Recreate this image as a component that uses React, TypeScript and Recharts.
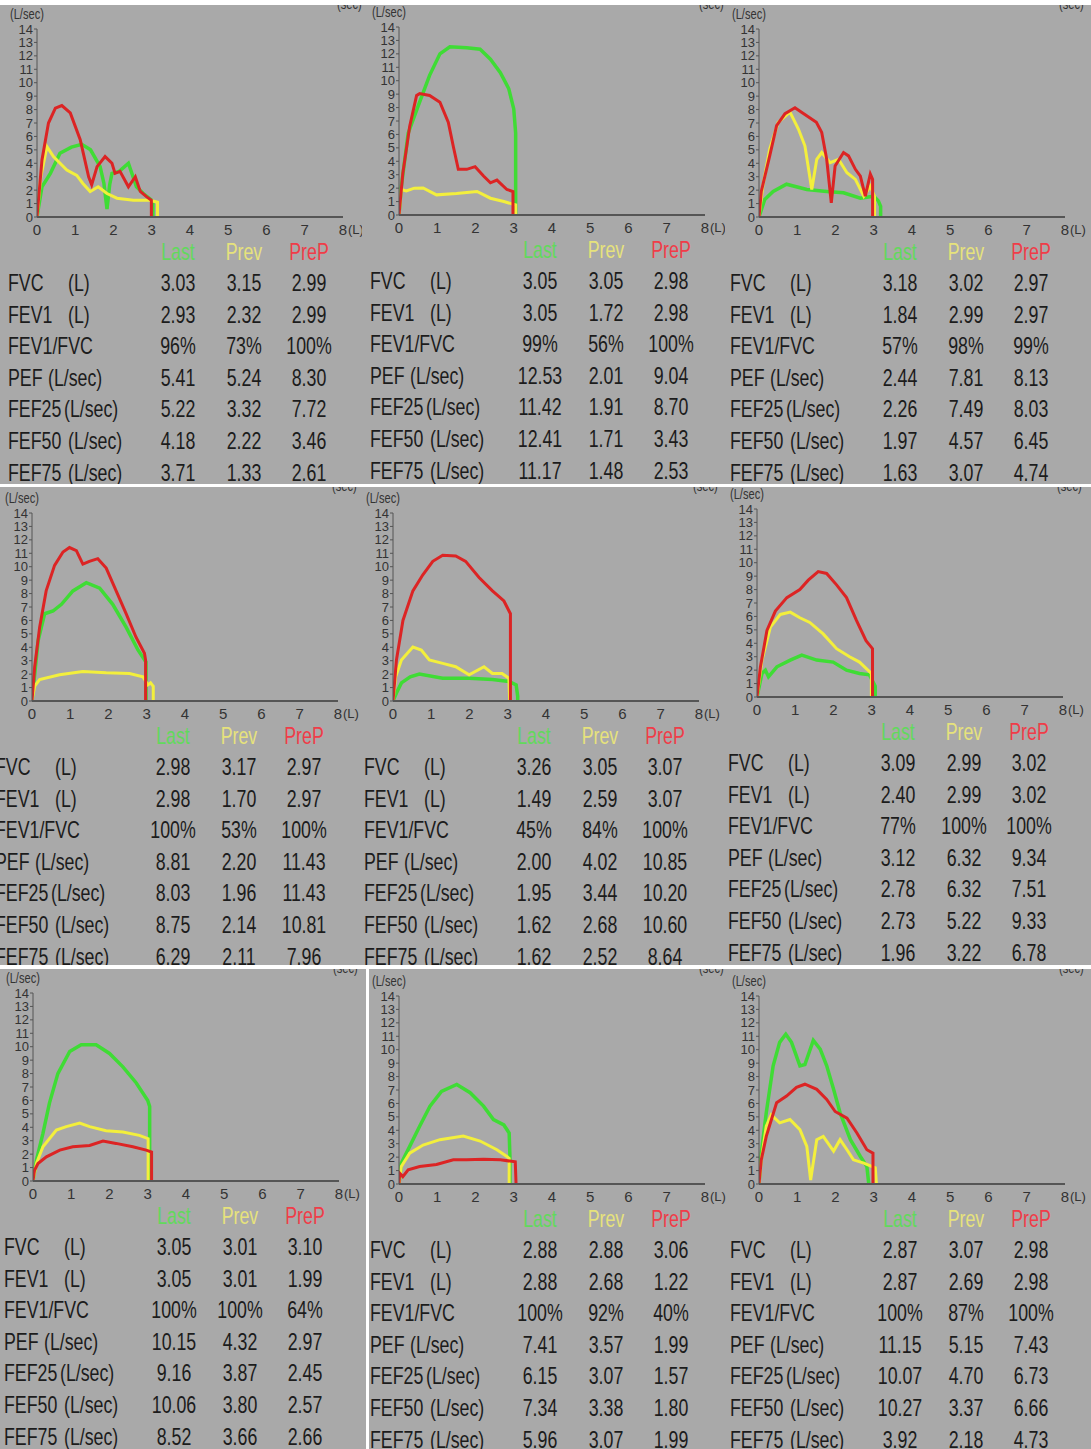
import React from "react";
import { LineChart, Line, XAxis, YAxis } from "recharts";

// flow-volume curves: [volume (L), flow (L/sec)]
const P1_LAST = [[0,0],[0.13,2.25],[0.35,3.25],[0.6,4.75],[0.9,5.2],[1.17,5.41],[1.4,5.0],[1.65,3.75],[1.75,2.5],[1.83,0.6],[1.9,2.4],[1.96,3.25],[2.15,3.4],[2.39,4.0],[2.6,2.25],[2.78,1.75],[3.0,1.25],[3.03,1.0],[3.03,0]];
const P1_PREV = [[0,0],[0.1,3.0],[0.26,5.24],[0.43,4.5],[0.78,3.5],[1.04,3.1],[1.2,2.5],[1.39,1.9],[1.6,2.25],[1.83,1.75],[2.09,1.4],[2.52,1.25],[2.96,1.25],[3.15,1.1],[3.15,0]];
const P1_PREP = [[0,0],[0.13,4.25],[0.3,7.0],[0.48,8.1],[0.65,8.3],[0.87,7.75],[1.13,5.75],[1.35,3.0],[1.43,2.4],[1.57,3.75],[1.78,4.5],[1.96,4.0],[2.04,3.25],[2.17,3.4],[2.39,2.25],[2.57,3.0],[2.7,1.9],[2.87,1.5],[2.99,1.25],[2.99,0]];

const P2_LAST = [[0,0],[0.06,2.1],[0.24,6.1],[0.5,8.1],[0.8,10.4],[1.07,12.0],[1.33,12.53],[1.77,12.45],[2.12,12.35],[2.39,11.6],[2.65,10.6],[2.87,9.4],[3.0,7.9],[3.05,6.1],[3.05,0]];
const P2_PREV = [[0,0],[0.06,1.9],[0.19,1.8],[0.4,2.0],[0.63,2.01],[0.98,1.5],[1.5,1.6],[2.04,1.75],[2.39,1.25],[2.74,1.0],[3.05,0.75],[3.05,0]];
const P2_PREP = [[0,0],[0.1,3.1],[0.28,6.6],[0.46,8.9],[0.54,9.04],[0.8,8.9],[1.07,8.4],[1.29,6.9],[1.42,5.1],[1.55,3.4],[1.77,3.4],[1.99,3.6],[2.21,2.9],[2.39,2.4],[2.56,2.6],[2.82,1.9],[2.98,1.75],[2.98,0]];

const P3_LAST = [[0,0],[0.15,1.3],[0.37,1.9],[0.72,2.44],[1.25,2.05],[1.77,1.9],[2.21,1.8],[2.65,1.4],[3.0,1.55],[3.12,1.2],[3.18,0.8],[3.18,0]];
const P3_PREV = [[0,0],[0.1,2.3],[0.28,5.05],[0.5,7.05],[0.81,7.81],[1.03,6.55],[1.2,5.3],[1.38,2.05],[1.51,4.3],[1.64,4.8],[1.86,4.05],[2.08,4.3],[2.3,3.3],[2.52,2.8],[2.74,1.55],[2.91,2.3],[3.02,1.55],[3.02,0]];
const P3_PREP = [[0,0],[0.06,1.9],[0.28,4.55],[0.46,6.8],[0.68,7.7],[0.94,8.13],[1.16,7.7],[1.5,7.05],[1.64,6.3],[1.77,4.3],[1.89,1.05],[1.99,3.8],[2.21,4.8],[2.34,4.55],[2.52,3.55],[2.65,3.05],[2.78,1.55],[2.91,3.2],[2.97,2.8],[2.97,0]];

const P4_LAST = [[0,0],[0.16,4.5],[0.33,6.5],[0.55,6.7],[0.77,7.2],[1.07,8.2],[1.42,8.81],[1.77,8.4],[2.11,7.2],[2.46,5.5],[2.77,3.8],[2.98,2.9],[2.98,0]];
const P4_PREV = [[0,0],[0.07,1.1],[0.2,1.6],[0.72,1.95],[1.33,2.2],[1.94,2.1],[2.55,2.05],[2.9,1.8],[3.03,1.2],[3.1,1.35],[3.17,1.1],[3.17,0]];
const P4_PREP = [[0,0],[0.07,2.55],[0.2,5.5],[0.37,8.2],[0.59,10.1],[0.81,11.1],[0.98,11.43],[1.16,11.2],[1.33,10.2],[1.5,10.4],[1.72,10.6],[1.94,9.9],[2.2,8.2],[2.46,6.5],[2.72,4.75],[2.94,3.55],[2.97,3.05],[2.97,0]];

const P5_LAST = [[0,0],[0.09,0.6],[0.22,1.35],[0.45,1.8],[0.69,2.0],[1.3,1.7],[1.99,1.7],[2.6,1.6],[3.03,1.45],[3.22,1.2],[3.26,0.35],[3.26,0]];
const P5_PREV = [[0,0],[0.07,1.8],[0.22,3.05],[0.52,4.02],[0.74,3.8],[0.95,3.05],[1.3,2.8],[1.64,2.55],[1.99,1.95],[2.38,2.55],[2.6,2.05],[2.85,2.05],[3.03,1.7],[3.05,0]];
const P5_PREP = [[0,0],[0.09,3.05],[0.26,6.0],[0.52,8.2],[0.78,9.4],[1.04,10.4],[1.3,10.85],[1.64,10.8],[1.9,10.4],[2.25,9.2],[2.6,8.2],[2.9,7.45],[3.07,6.5],[3.07,0]];

const P6_LAST = [[0,0],[0.13,1.75],[0.22,2.0],[0.3,1.5],[0.52,2.25],[0.87,2.75],[1.17,3.12],[1.56,2.75],[1.99,2.6],[2.34,2.0],[2.68,1.75],[2.94,1.65],[3.09,0.8],[3.09,0]];
const P6_PREV = [[0,0],[0.13,2.75],[0.35,5.2],[0.61,6.15],[0.87,6.32],[1.12,5.9],[1.38,5.55],[1.73,4.7],[2.08,3.6],[2.42,3.0],[2.68,2.6],[2.9,2.0],[2.99,1.75],[2.99,0]];
const P6_PREP = [[0,0],[0.09,2.25],[0.26,4.95],[0.48,6.4],[0.78,7.4],[1.12,8.0],[1.34,8.7],[1.6,9.34],[1.82,9.2],[2.08,8.35],[2.34,7.4],[2.6,5.7],[2.85,4.2],[3.02,3.6],[3.02,0]];

const P7_LAST = [[0,0],[0.09,1.55],[0.26,3.55],[0.43,5.8],[0.65,8.0],[0.96,9.65],[1.26,10.15],[1.65,10.15],[2.0,9.5],[2.35,8.5],[2.7,7.3],[3.0,6.0],[3.05,5.55],[3.05,0]];
const P7_PREV = [[0,0],[0.09,1.3],[0.26,2.55],[0.61,3.8],[0.87,4.05],[1.22,4.32],[1.48,4.05],[1.91,3.75],[2.35,3.65],[2.78,3.4],[3.01,3.15],[3.01,0]];
const P7_PREP = [[0,0],[0.04,0.8],[0.13,1.3],[0.35,1.8],[0.7,2.3],[1.04,2.55],[1.48,2.65],[1.83,2.97],[2.17,2.8],[2.61,2.55],[2.96,2.3],[3.1,2.15],[3.1,0]];

const P8_LAST = [[0,0],[0.06,1.55],[0.28,2.8],[0.54,4.3],[0.81,5.8],[1.11,6.9],[1.51,7.41],[1.86,6.8],[2.21,5.8],[2.47,4.8],[2.74,4.4],[2.88,3.8],[2.9,2.05],[2.9,0]];
const P8_PREV = [[0,0],[0.06,1.3],[0.28,2.3],[0.63,2.9],[1.07,3.3],[1.68,3.57],[2.12,3.2],[2.56,2.55],[2.82,2.05],[2.88,1.9],[2.88,0]];
const P8_PREP = [[0,0],[0.02,0.8],[0.1,0.55],[0.24,1.05],[0.54,1.3],[0.98,1.45],[1.42,1.8],[1.77,1.8],[2.21,1.85],[2.65,1.8],[3.04,1.65],[3.06,0]];

const P9_LAST = [[0,0],[0.06,2.3],[0.19,5.3],[0.37,8.8],[0.54,10.55],[0.7,11.15],[0.85,10.55],[1.07,8.8],[1.2,8.9],[1.42,10.7],[1.6,10.05],[1.77,8.8],[1.95,7.05],[2.12,5.3],[2.39,3.3],[2.65,2.05],[2.82,1.3],[2.87,0]];
const P9_PREV = [[0,0],[0.06,1.8],[0.19,4.3],[0.32,5.15],[0.54,4.55],[0.81,4.8],[1.07,4.05],[1.25,2.8],[1.35,0.3],[1.51,3.3],[1.68,3.55],[1.95,2.45],[2.12,3.3],[2.3,2.55],[2.47,1.8],[2.74,1.55],[3.04,1.2],[3.07,0]];
const P9_PREP = [[0,0],[0.06,1.8],[0.19,3.55],[0.46,6.05],[0.72,6.55],[0.98,7.2],[1.2,7.43],[1.51,7.05],[1.77,6.3],[1.99,5.4],[2.3,4.9],[2.56,3.8],[2.82,2.55],[2.98,2.3],[2.98,0]];

// result tables: rows FVC, FEV1, FEV1/FVC, PEF, FEF25, FEF50, FEF75 — columns Last, Prev, PreP
const P1_TABLE = [["3.03","3.15","2.99"],["2.93","2.32","2.99"],["96%","73%","100%"],["5.41","5.24","8.30"],["5.22","3.32","7.72"],["4.18","2.22","3.46"],["3.71","1.33","2.61"]];
const P2_TABLE = [["3.05","3.05","2.98"],["3.05","1.72","2.98"],["99%","56%","100%"],["12.53","2.01","9.04"],["11.42","1.91","8.70"],["12.41","1.71","3.43"],["11.17","1.48","2.53"]];
const P3_TABLE = [["3.18","3.02","2.97"],["1.84","2.99","2.97"],["57%","98%","99%"],["2.44","7.81","8.13"],["2.26","7.49","8.03"],["1.97","4.57","6.45"],["1.63","3.07","4.74"]];
const P4_TABLE = [["2.98","3.17","2.97"],["2.98","1.70","2.97"],["100%","53%","100%"],["8.81","2.20","11.43"],["8.03","1.96","11.43"],["8.75","2.14","10.81"],["6.29","2.11","7.96"]];
const P5_TABLE = [["3.26","3.05","3.07"],["1.49","2.59","3.07"],["45%","84%","100%"],["2.00","4.02","10.85"],["1.95","3.44","10.20"],["1.62","2.68","10.60"],["1.62","2.52","8.64"]];
const P6_TABLE = [["3.09","2.99","3.02"],["2.40","2.99","3.02"],["77%","100%","100%"],["3.12","6.32","9.34"],["2.78","6.32","7.51"],["2.73","5.22","9.33"],["1.96","3.22","6.78"]];
const P7_TABLE = [["3.05","3.01","3.10"],["3.05","3.01","1.99"],["100%","100%","64%"],["10.15","4.32","2.97"],["9.16","3.87","2.45"],["10.06","3.80","2.57"],["8.52","3.66","2.66"]];
const P8_TABLE = [["2.88","2.88","3.06"],["2.88","2.68","1.22"],["100%","92%","40%"],["7.41","3.57","1.99"],["6.15","3.07","1.57"],["7.34","3.38","1.80"],["5.96","3.07","1.99"]];
const P9_TABLE = [["2.87","3.07","2.98"],["2.87","2.69","2.98"],["100%","87%","100%"],["11.15","5.15","7.43"],["10.07","4.70","6.73"],["10.27","3.37","6.66"],["3.92","2.18","4.73"]];

const ROW_NAMES = ["FVC", "FEV1", "FEV1/FVC", "PEF", "FEF25", "FEF50", "FEF75"];
const ROW_UNITS = ["(L)", "(L)", "", "(L/sec)", "(L/sec)", "(L/sec)", "(L/sec)"];
const SERIES = ["Last", "Prev", "PreP"];
const X_TICKS = [0, 1, 2, 3, 4, 5, 6, 7, 8];
const Y_TICKS = [0, 1, 2, 3, 4, 5, 6, 7, 8, 9, 10, 11, 12, 13, 14];

const UNIT_X = [60, 60, 0, 40, 56, 60, 60];
const GRAY = "#a9a9a9";
const GREEN = "#3fdc35";
const YELLOW = "#f3ef3c";
const RED = "#dc2424";
const HEAD_COLORS = ["#62d95c", "#e6e27c", "#f03c48"];
const FONT = "'Liberation Sans', Arial, sans-serif";
const SQUEEZE = "scaleX(0.74)";

const pts = (a: number[][]) => a.map(([v, f]) => ({ v, f }));

const XTick = (props: any) => {
  const { x, y, payload } = props;
  return (
    <g>
      <text x={x} y={y + 10} textAnchor="middle" fontSize={15} fill="#333" fontFamily={FONT}>
        {payload.value}
      </text>
      {payload.value === 8 && (
        <text x={x + 5} y={y + 9} fontSize={13} fill="#333" fontFamily={FONT}>
          (L)
        </text>
      )}
    </g>
  );
};

interface PanelProps {
  bx: number; by: number; bw: number; bh: number;
  x0: number; y0: number;
  last: number[][]; prev: number[][]; prep: number[][];
  table: string[][];
  labelDx?: number;
}

function Panel({ bx, by, bw, bh, x0, y0, last, prev, prep, table, labelDx = 0 }: PanelProps) {
  const lx = x0 - bx; // local x of volume 0
  const ly = y0 - by; // local y of flow 0
  const colX = [141, 207, 272];
  const cell = (left: number, top: number, origin: string) => ({
    position: "absolute" as const, left, top, lineHeight: "28px", fontSize: 24,
    whiteSpace: "nowrap" as const, transform: SQUEEZE, transformOrigin: origin,
  });
  return (
    <div style={{ position: "absolute", left: bx, top: by, width: bw, height: bh, background: GRAY, overflow: "hidden", fontFamily: FONT, color: "#1c1c1c" }}>
      <div style={{ ...cell(lx - 27, ly - 211, "left"), fontSize: 15, lineHeight: "16px", color: "#333" }}>(L/sec)</div>
      <div style={{ ...cell(lx + 300, -9, "left"), fontSize: 15, lineHeight: "16px", color: "#333" }}>(sec)</div>
      <div style={{ position: "absolute", left: lx - 30, top: ly - 198 }}>
        <LineChart width={360} height={224} margin={{ top: 10, right: 24, left: 0, bottom: 0 }}>
          <XAxis type="number" dataKey="v" domain={[0, 8]} ticks={X_TICKS} interval={0} allowDataOverflow
            stroke="#555" strokeWidth={2} tickLine={false} tick={<XTick />} height={26} />
          <YAxis type="number" dataKey="f" domain={[0, 14]} ticks={Y_TICKS} interval={0} allowDataOverflow width={30}
            stroke="#555" tickSize={3} tickMargin={1}
            tick={{ fontSize: 13, fill: "#333", fontFamily: FONT }} />
          <Line data={pts(last)} dataKey="f" type="linear" stroke={GREEN} strokeWidth={3.5} dot={false} isAnimationActive={false} />
          <Line data={pts(prev)} dataKey="f" type="linear" stroke={YELLOW} strokeWidth={3} dot={false} isAnimationActive={false} />
          <Line data={pts(prep)} dataKey="f" type="linear" stroke={RED} strokeWidth={3} dot={false} isAnimationActive={false} />
        </LineChart>
      </div>
      {SERIES.map((s, i) => (
        <div key={s} style={{ ...cell(lx + colX[i] - 40, ly + 35 - 14, "center"), width: 80, textAlign: "center", color: HEAD_COLORS[i] }}>
          {s}
        </div>
      ))}
      {ROW_NAMES.map((name, r) => {
        const cy = ly + 66 + r * 31.6;
        return (
          <React.Fragment key={name}>
            <div style={cell(lx - 29 + labelDx, cy - 14, "left")}>{name}</div>
            {ROW_UNITS[r] && (
              <div style={cell(lx - 29 + labelDx + UNIT_X[r], cy - 14, "left")}>{ROW_UNITS[r]}</div>
            )}
            {table[r].map((val, c) => (
              <div key={c} style={{ ...cell(lx + colX[c] - 40, cy - 14, "center"), width: 80, textAlign: "center" }}>
                {val}
              </div>
            ))}
          </React.Fragment>
        );
      })}
    </div>
  );
}

export default function App() {
  return (
    <div style={{ position: "absolute", left: 0, top: 0, width: 1091, height: 1449, background: "#fff", overflow: "hidden" }}>
      <Panel bx={0} by={5} bw={362} bh={479} x0={37} y0={217} last={P1_LAST} prev={P1_PREV} prep={P1_PREP} table={P1_TABLE} />
      <Panel bx={362} by={5} bw={363} bh={479} x0={399} y0={215} last={P2_LAST} prev={P2_PREV} prep={P2_PREP} table={P2_TABLE} />
      <Panel bx={725} by={5} bw={366} bh={479} x0={759} y0={217} last={P3_LAST} prev={P3_PREV} prep={P3_PREP} table={P3_TABLE} />
      <Panel bx={0} by={487} bw={362} bh={478} x0={32} y0={701} last={P4_LAST} prev={P4_PREV} prep={P4_PREP} table={P4_TABLE} labelDx={-8} />
      <Panel bx={362} by={487} bw={363} bh={478} x0={393} y0={701} last={P5_LAST} prev={P5_PREV} prep={P5_PREP} table={P5_TABLE} />
      <Panel bx={725} by={487} bw={366} bh={478} x0={757} y0={697} last={P6_LAST} prev={P6_PREV} prep={P6_PREP} table={P6_TABLE} />
      <Panel bx={0} by={969} bw={366} bh={480} x0={33} y0={1181} last={P7_LAST} prev={P7_PREV} prep={P7_PREP} table={P7_TABLE} />
      <Panel bx={369} by={969} bw={358} bh={480} x0={399} y0={1184} last={P8_LAST} prev={P8_PREV} prep={P8_PREP} table={P8_TABLE} />
      <Panel bx={727} by={969} bw={364} bh={480} x0={759} y0={1184} last={P9_LAST} prev={P9_PREV} prep={P9_PREP} table={P9_TABLE} />
    </div>
  );
}
